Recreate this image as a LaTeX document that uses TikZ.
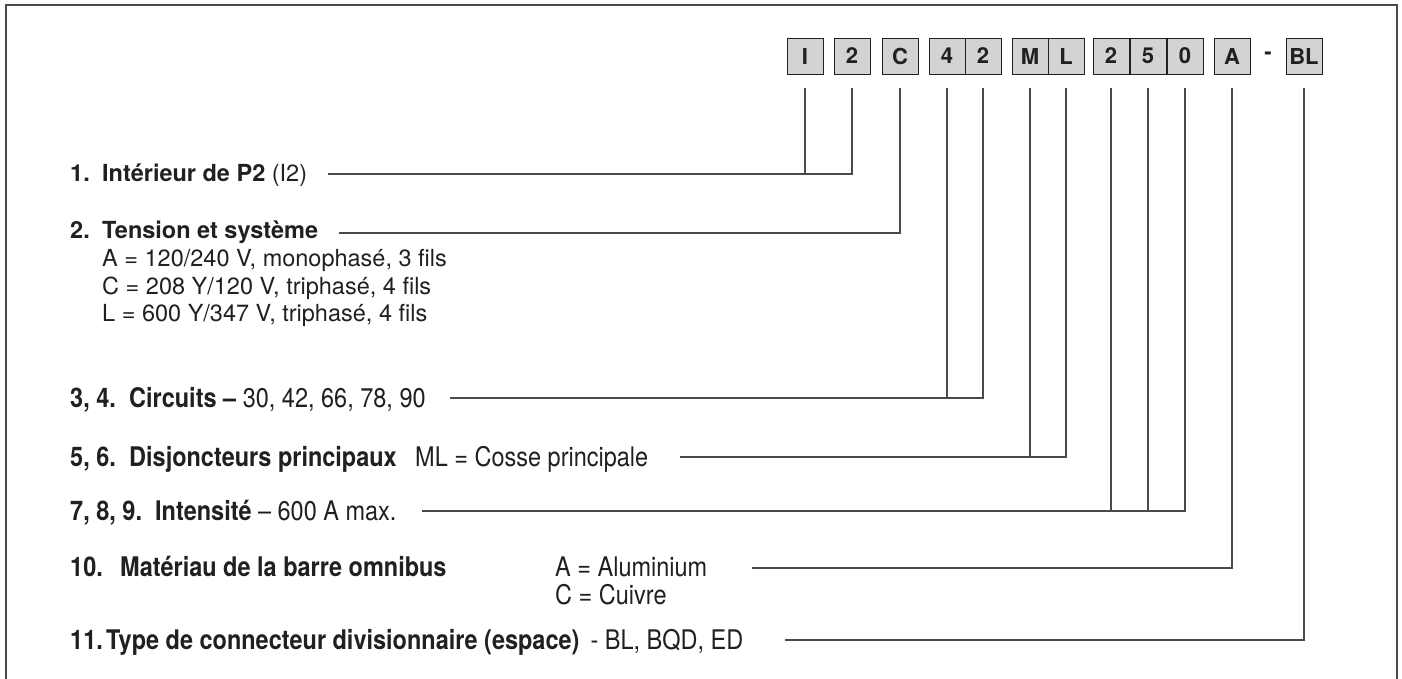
\documentclass[tikz,border=0pt]{standalone}
\usepackage{fontspec}
\setmainfont{TeX Gyre Heros}
\newfontfamily\cnd{TeX Gyre Heros}[FakeStretch=0.87]
\definecolor{boxfill}{HTML}{D3D3D3}
\definecolor{linegray}{HTML}{4A4A4A}
\definecolor{txt}{HTML}{231F20}
\begin{document}
\begin{tikzpicture}[x=1pt,y=-1pt,
  cbox/.style={draw=txt, line width=1pt, fill=boxfill, minimum width=36pt, minimum height=36pt, inner sep=0pt, font=\fontsize{22}{24}\selectfont\bfseries, text=txt},
  lbl/.style={anchor=base west, inner sep=0pt, text=txt, font=\fontsize{23.5}{28}\selectfont},
  clbl/.style={anchor=base west, inner sep=0pt, text=txt, font=\fontsize{27}{30}\selectfont\cnd},
  conn/.style={draw=linegray, line width=1.1pt},
  frame/.style={draw=linegray, line width=1.6pt}]
\useasboundingbox (0,0) rectangle (1402,678);
\draw[frame] (6,690) -- (6,5) -- (1397,5) -- (1397,690);
% code boxes
\node[cbox] (bI) at (805,56) {I};
\node[cbox] (b2) at (852,56) {2};
\node[cbox] (bC) at (900,56) {C};
\node[cbox] (b4) at (947,56) {4};
\node[cbox] (b2b) at (983,56) {2};
\node[cbox] (bM) at (1030,56) {M};
\node[cbox] (bL) at (1066,56) {L};
\node[cbox] (b2c) at (1111,56) {2};
\node[cbox] (b5) at (1148,56) {5};
\node[cbox] (b0) at (1185,56) {0};
\node[cbox] (bA) at (1232,56) {A};
\node[font=\fontsize{22}{24}\selectfont\bfseries, text=txt, inner sep=0pt] (dash) at (1268,56) {-};
\node[cbox] (bBL) at (1304,56) {BL};
% line start points
\coordinate (s1) at (328,174);
\coordinate (s2) at (339,233);
\coordinate (s3) at (450,398);
\coordinate (s4) at (680,457);
\coordinate (s5) at (422,511);
\coordinate (s6) at (752,568);
\coordinate (s7) at (785,640);
% labels
\node[lbl] (n1) at (70,181.5) {\textbf{1.}};
\node[lbl] (t1) at (102,181.5) {\textbf{Intérieur de P2} (I2)};
\node[lbl] (n2) at (70,238.5) {\textbf{2.}};
\node[lbl] (t2) at (102,238.5) {\textbf{Tension et système}};
\node[lbl] (t2a) at (102,266) {A = 120/240 V, monophasé, 3 fils};
\node[lbl] (t2b) at (102,294) {C = 208 Y/120 V, triphasé, 4 fils};
\node[lbl] (t2c) at (102,321) {L = 600 Y/347 V, triphasé, 4 fils};
\node[clbl] (n3) at (70,407) {\textbf{3, 4.}};
\node[clbl] (t3) at (129,407) {\textbf{Circuits –} 30, 42, 66, 78, 90};
\node[clbl] (n4) at (70,466) {\textbf{5, 6.}};
\node[clbl] (t4) at (129,466) {\textbf{Disjoncteurs principaux}};
\node[clbl] (t4b) at (415,466) {ML = Cosse principale};
\node[clbl] (n5) at (70,520) {\textbf{7, 8, 9.}};
\node[clbl] (t5) at (155,520) {\textbf{Intensité} – 600 A max.};
\node[clbl] (n6) at (70,576) {\textbf{10.}};
\node[clbl] (t6) at (120,576) {\textbf{Matériau de la barre omnibus}};
\node[clbl] (t6a) at (555,576) {A = Aluminium};
\node[clbl] (t6b) at (555,604) {C = Cuivre};
\node[clbl] (n7) at (70,649) {\textbf{11.}};
\node[clbl] (t7) at (106,649) {\textbf{Type de connecteur divisionnaire (espace)}\hspace{11pt}- BL, BQD, ED};
% connectors
\draw[conn] (s1) -- (b2.south |- s1) -- ([yshift=-13pt]b2.south);
\draw[conn] (bI.south |- s1) -- ([yshift=-13pt]bI.south);
\draw[conn] (s2) -- (bC.south |- s2) -- ([yshift=-13pt]bC.south);
\draw[conn] (s3) -- (b2b.south |- s3) -- ([yshift=-13pt]b2b.south);
\draw[conn] (b4.south |- s3) -- ([yshift=-13pt]b4.south);
\draw[conn] (s4) -- (bL.south |- s4) -- ([yshift=-13pt]bL.south);
\draw[conn] (bM.south |- s4) -- ([yshift=-13pt]bM.south);
\draw[conn] (s5) -- (b0.south |- s5) -- ([yshift=-13pt]b0.south);
\draw[conn] (b2c.south |- s5) -- ([yshift=-13pt]b2c.south);
\draw[conn] (b5.south |- s5) -- ([yshift=-13pt]b5.south);
\draw[conn] (s6) -- (bA.south |- s6) -- ([yshift=-13pt]bA.south);
\draw[conn] (s7) -- (bBL.south |- s7) -- ([yshift=-13pt]bBL.south);
\end{tikzpicture}
\end{document}
